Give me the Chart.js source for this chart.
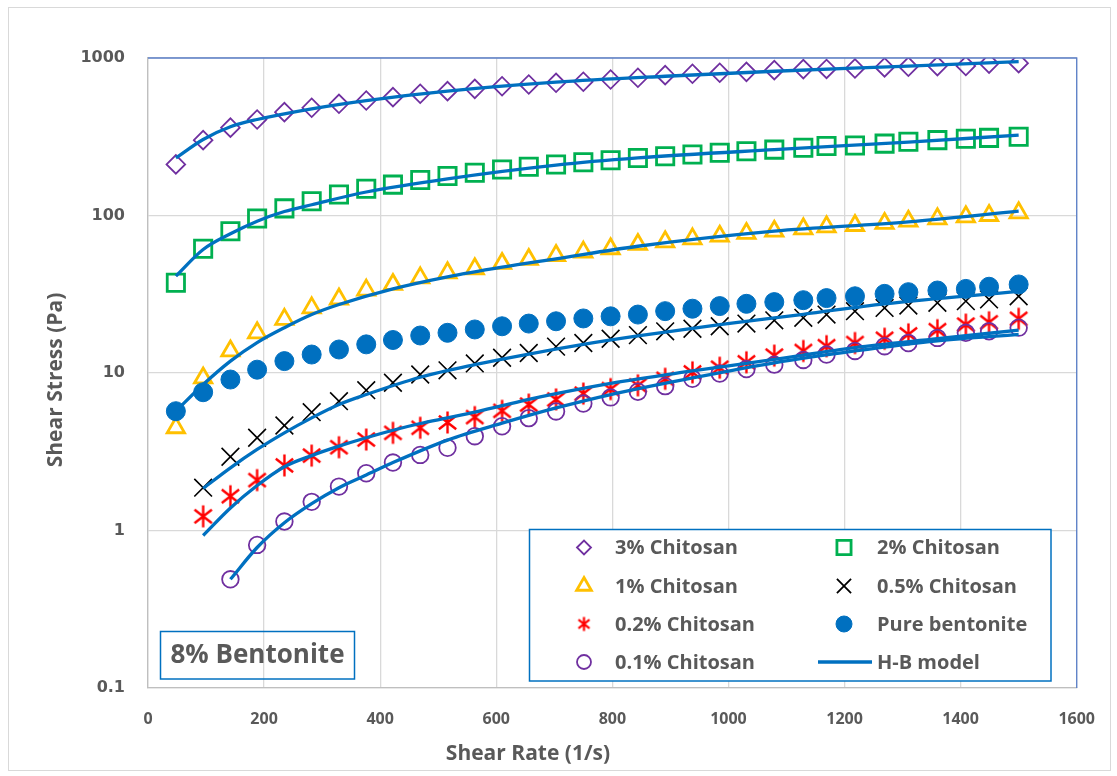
<!DOCTYPE html>
<html>
<head>
<meta charset="utf-8">
<script src="https://cdn.jsdelivr.net/npm/chart.js@4/dist/chart.umd.min.js"></script>
<style>
  html, body { margin: 0; padding: 0; background: #fff; }
  #wrap { width: 1117px; height: 776px; position: relative; }
</style>
</head>
<body>
<div id="wrap"><canvas id="flow" width="1117" height="776"></canvas></div>
<script>
// Shear rates (1/s) of the measured points
const shearRate = [48, 95, 142, 188, 235, 282, 329, 376, 422, 469, 516, 563, 610, 656, 703, 750,
                   797, 844, 891, 938, 985, 1031, 1079, 1129, 1169, 1218, 1269, 1310, 1360, 1409, 1449, 1500];

// Measured shear stress (Pa)
const chitosan3 = [211, 301, 361, 407, 453, 483, 512, 537, 564, 593, 616, 637, 662, 679, 696, 707,
                   730, 749, 778, 794, 806, 817, 837, 850, 852, 858, 871, 880, 888, 890, 922, 927];
const chitosan2 = [37.4, 61.5, 79.5, 95.7, 111, 123, 136, 148, 157, 168, 178, 187, 196, 204, 211, 218,
                   224, 232, 238, 244, 250, 256, 262, 269, 276, 278, 286, 294, 301, 307, 311, 316];
const chitosan1 = [4.49, 9.3, 13.8, 18.0, 21.9, 25.9, 29.5, 33.6, 36.5, 40.2, 43.3, 45.9, 49.6, 52.6, 55.7, 58.5,
                   61.5, 65.5, 68.1, 71.1, 73.9, 76.9, 79.5, 82.3, 84.8, 86.4, 89.0, 92.0, 95.3, 98.1, 100, 104];
const bentonite = [5.72, 7.55, 9.09, 10.5, 11.9, 13.1, 14.1, 15.2, 16.2, 17.3, 18.0, 18.9, 19.8, 20.6, 21.3, 22.2,
                   22.9, 23.5, 24.7, 25.6, 26.6, 27.5, 28.2, 29.0, 29.9, 30.7, 31.8, 32.6, 33.4, 34.2, 35.3, 36.5];
// these start at the 2nd shear rate
const chitosan05 = [1.87, 2.94, 3.88, 4.64, 5.64, 6.62, 7.78, 8.67, 9.78, 10.4, 11.5, 12.5, 13.4, 14.7, 15.5,
                    16.5, 17.4, 18.4, 19.1, 19.8, 20.6, 21.6, 22.4, 23.5, 24.7, 25.9, 26.8, 27.9, 28.6, 29.3, 30.7];
const chitosan02 = [1.23, 1.65, 2.09, 2.59, 2.99, 3.38, 3.78, 4.17, 4.49, 4.85, 5.25, 5.75, 6.3, 6.8, 7.4,
                    7.9, 8.35, 9.19, 10.1, 10.8, 11.7, 12.9, 13.8, 14.8, 15.5, 16.5, 17.6, 18.7, 20.3, 21.0, 22.1];
// starts at the 3rd shear rate
const chitosan01 = [0.49, 0.81, 1.14, 1.52, 1.90, 2.31, 2.70, 3.02, 3.35, 3.97, 4.59, 5.17, 5.70, 6.4,
                    7.0, 7.6, 8.25, 9.19, 9.93, 10.6, 11.3, 12.1, 13.1, 13.8, 14.8, 15.5, 16.7, 18.0, 18.4, 19.4];

// Herschel-Bulkley fitted curves
const hb3X = [48, 95, 142, 188, 282, 376, 516, 703, 891, 1079, 1310, 1500];
const hb3Y = [232, 304, 366, 407, 476, 537, 616, 702, 766, 824, 888, 948];
const hb2X = [48, 95, 142, 188, 235, 282, 376, 516, 703, 844, 1079, 1310, 1500];
const hb2Y = [41.2, 60.8, 76.5, 92, 106, 117, 141, 171, 209, 232, 262, 292, 324];
const hb1X = [48, 95, 142, 188, 235, 282, 329, 422, 516, 610, 703, 844, 1079, 1310, 1500];
const hb1Y = [5.72, 8.45, 11.9, 15.6, 19.4, 23.5, 27.2, 34.2, 40.8, 47, 53.1, 63.8, 79.5, 91, 106.5];
const hb05X = [95, 142, 188, 235, 282, 329, 376, 469, 563, 656, 750, 844, 985, 1129, 1269, 1500];
const hb05Y = [1.85, 2.5, 3.27, 4.17, 5.19, 6.31, 7.3, 9.4, 11.3, 13.2, 15.2, 17.2, 20.3, 23.6, 27.5, 33.0];
const hb02X = [95, 142, 188, 235, 282, 329, 376, 422, 469, 516, 563, 610, 656, 703, 797, 938, 1079, 1218, 1360, 1500];
const hb02Y = [0.93, 1.39, 1.93, 2.54, 2.99, 3.43, 3.88, 4.33, 4.78, 5.19, 5.64, 6.2, 6.8, 7.4, 8.6, 10.3, 12.2, 14.5, 16.5, 18.7];
const hb01X = [142, 188, 235, 282, 329, 376, 422, 516, 610, 703, 797, 938, 1079, 1218, 1360, 1500];
const hb01Y = [0.49, 0.78, 1.12, 1.48, 1.87, 2.25, 2.7, 3.75, 4.8, 6.0, 7.3, 9.3, 11.6, 13.8, 16.0, 17.6];

const yTicks = [0.1, 1, 10, 100, 1000];

const GREY_TEXT = '#595959';
const HB_BLUE = '#0070C0';

// pair up x and y arrays into points
function pts(xs, ys) {
    return ys.map((y, i) => ({ x: xs[i], y: y }));
}

// Excel-style asterisk marker (vertical bar + X), no horizontal arm
function makeAsterisk(size, lw) {
    const c = document.createElement('canvas');
    c.width = size; c.height = size;
    const g = c.getContext('2d');
    g.strokeStyle = '#FF0000';
    g.lineWidth = lw;
    const m = size / 2, r = size / 2 - 1.5;
    const dx = r * Math.cos(38 * Math.PI / 180), dy = r * Math.sin(38 * Math.PI / 180);
    g.beginPath();
    g.moveTo(m, m - r); g.lineTo(m, m + r);
    g.moveTo(m - dx, m - dy); g.lineTo(m + dx, m + dy);
    g.moveTo(m + dx, m - dy); g.lineTo(m - dx, m + dy);
    g.stroke();
    return c;
}
const starBig = makeAsterisk(25, 2.4);
const starSmall = makeAsterisk(17, 2.2);

function markerSet(label, data, style, radius, border, fill, bw, order) {
    return {
        label: label,
        data: data,
        showLine: false,
        pointStyle: style,
        pointRadius: radius,
        pointBorderColor: border,
        pointBackgroundColor: fill,
        pointBorderWidth: bw,
        order: order
    };
}

function hbLine(xs, ys) {
    return {
        label: 'H-B model',
        data: pts(xs, ys),
        showLine: true,
        borderColor: HB_BLUE,
        borderWidth: 3.3,
        pointRadius: 0,
        cubicInterpolationMode: 'monotone',
        order: 0
    };
}

const datasets = [
    markerSet('3% Chitosan', pts(shearRate, chitosan3), 'rectRot', 9.3, '#7030A0', 'rgba(0,0,0,0)', 1.8, 7),
    markerSet('2% Chitosan', pts(shearRate, chitosan2), 'rect', 12.2, '#00B050', 'rgba(0,0,0,0)', 2.8, 6),
    markerSet('1% Chitosan', pts(shearRate, chitosan1), 'triangle', 10, '#FFC000', 'rgba(0,0,0,0)', 2.8, 5),
    markerSet('0.5% Chitosan', pts(shearRate.slice(1), chitosan05), 'crossRot', 12.5, '#000000', '#000000', 1.6, 4),
    markerSet('0.2% Chitosan', pts(shearRate.slice(1), chitosan02), starBig, 10, '#FF0000', '#FF0000', 2, 3),
    markerSet('Pure bentonite', pts(shearRate, bentonite), 'circle', 9.5, HB_BLUE, HB_BLUE, 1, 1),
    markerSet('0.1% Chitosan', pts(shearRate.slice(2), chitosan01), 'circle', 8.3, '#7030A0', 'rgba(0,0,0,0)', 1.8, 2),
    hbLine(hb3X, hb3Y),
    hbLine(hb2X, hb2Y),
    hbLine(hb1X, hb1Y),
    hbLine(hb05X, hb05Y),
    hbLine(hb02X, hb02Y),
    hbLine(hb01X, hb01Y)
];

// legend entries: [label, pointStyle, radius, stroke, fill, lineWidth]
const legendItems = [
    ['3% Chitosan', 'rectRot', 7, '#7030A0', 'rgba(0,0,0,0)', 1.8],
    ['2% Chitosan', 'rect', 10, '#00B050', 'rgba(0,0,0,0)', 2.8],
    ['1% Chitosan', 'triangle', 8.5, '#FFC000', 'rgba(0,0,0,0)', 2.8],
    ['0.5% Chitosan', 'crossRot', 10, '#000000', '#000000', 1.8],
    ['0.2% Chitosan', starSmall, 7, '#FF0000', '#FF0000', 2],
    ['Pure bentonite', 'circle', 8, HB_BLUE, HB_BLUE, 1],
    ['0.1% Chitosan', 'circle', 7, '#7030A0', 'rgba(0,0,0,0)', 1.8],
    ['H-B model', 'line', 0, HB_BLUE, HB_BLUE, 3.5]
];

const decor = {
    id: 'decor',
    afterDraw(chart) {
        const ctx = chart.ctx;
        const a = chart.chartArea;
        ctx.save();

        // outer frame of the figure
        ctx.strokeStyle = '#d9d9d9';
        ctx.lineWidth = 1;
        ctx.strokeRect(8.5, 7.5, 1102, 763);

        // blue top and right edges of the plot area
        ctx.strokeStyle = '#5b7fc8';
        ctx.lineWidth = 1.3;
        ctx.beginPath();
        ctx.moveTo(a.left, a.top);
        ctx.lineTo(a.right, a.top);
        ctx.lineTo(a.right, a.bottom);
        ctx.stroke();

        // axis titles
        ctx.fillStyle = GREY_TEXT;
        ctx.font = 'bold 21px "Open Sans"';
        ctx.textAlign = 'center';
        ctx.textBaseline = 'middle';
        ctx.fillText('Shear Rate (1/s)', 528, 754);
        ctx.save();
        ctx.translate(56, 380);
        ctx.rotate(-Math.PI / 2);
        ctx.fillText('Shear Stress (Pa)', 0, 0);
        ctx.restore();

        // sample label box
        ctx.strokeStyle = HB_BLUE;
        ctx.lineWidth = 1.5;
        ctx.strokeRect(160.5, 631.5, 194, 47.5);
        ctx.font = 'bold 26px "Open Sans"';
        ctx.fillText('8% Bentonite', 257.5, 656);

        // legend box
        const lx = 529.5, ly = 529.5, lw = 521.5, lh = 151.5;
        ctx.fillStyle = '#ffffff';
        ctx.fillRect(lx, ly, lw, lh);
        ctx.strokeStyle = HB_BLUE;
        ctx.lineWidth = 1.5;
        ctx.strokeRect(lx, ly, lw, lh);

        const rowY = [547.5, 586, 624, 662];
        const markX = [584, 844];
        const textX = [615, 877];
        ctx.font = 'bold 20px "Open Sans"';
        ctx.textAlign = 'left';
        legendItems.forEach((it, i) => {
            const col = i % 2, row = Math.floor(i / 2);
            const y = rowY[row];
            const mx = markX[col];
            ctx.strokeStyle = it[3];
            ctx.fillStyle = it[4];
            ctx.lineWidth = it[5];
            if (it[1] === 'line') {
                ctx.beginPath();
                ctx.moveTo(818, y);
                ctx.lineTo(872, y);
                ctx.stroke();
            } else {
                Chart.helpers.drawPoint(ctx, {
                    pointStyle: it[1], radius: it[2], rotation: 0, borderWidth: it[5]
                }, mx, y);
            }
            ctx.fillStyle = GREY_TEXT;
            ctx.fillText(it[0], textX[col], y + 1);
        });

        ctx.restore();
    }
};

new Chart(document.getElementById('flow'), {
    type: 'scatter',
    data: { datasets: datasets },
    options: {
        responsive: false,
        animation: false,
        devicePixelRatio: 1,
        layout: { padding: { top: 58, right: 38, bottom: 0, left: 0 } },
        plugins: {
            legend: { display: false },
            tooltip: { enabled: false }
        },
        scales: {
            x: {
                type: 'linear',
                min: 0,
                max: 1600,
                afterFit: s => { s.height = 88; },
                grid: { color: '#d9d9d9', lineWidth: 1.3, drawTicks: false },
                border: { color: '#bfbfbf', width: 1.3 },
                ticks: {
                    stepSize: 200,
                    padding: 22,
                    color: GREY_TEXT,
                    font: { family: 'Open Sans', weight: 'bold', size: 16 },
                    callback: v => String(v)
                }
            },
            y: {
                type: 'logarithmic',
                min: 0.1,
                max: 1000,
                afterFit: s => { s.width = 148; },
                afterBuildTicks: s => { s.ticks = yTicks.map(v => ({ value: v })); },
                grid: { color: '#d9d9d9', lineWidth: 1.3, drawTicks: false },
                border: { color: '#bfbfbf', width: 1.3 },
                ticks: {
                    padding: 23,
                    color: GREY_TEXT,
                    font: { family: 'DejaVu Sans', weight: 'bold', size: 16 },
                    callback: v => String(v)
                }
            }
        }
    },
    plugins: [decor]
});
</script>
</body>
</html>
